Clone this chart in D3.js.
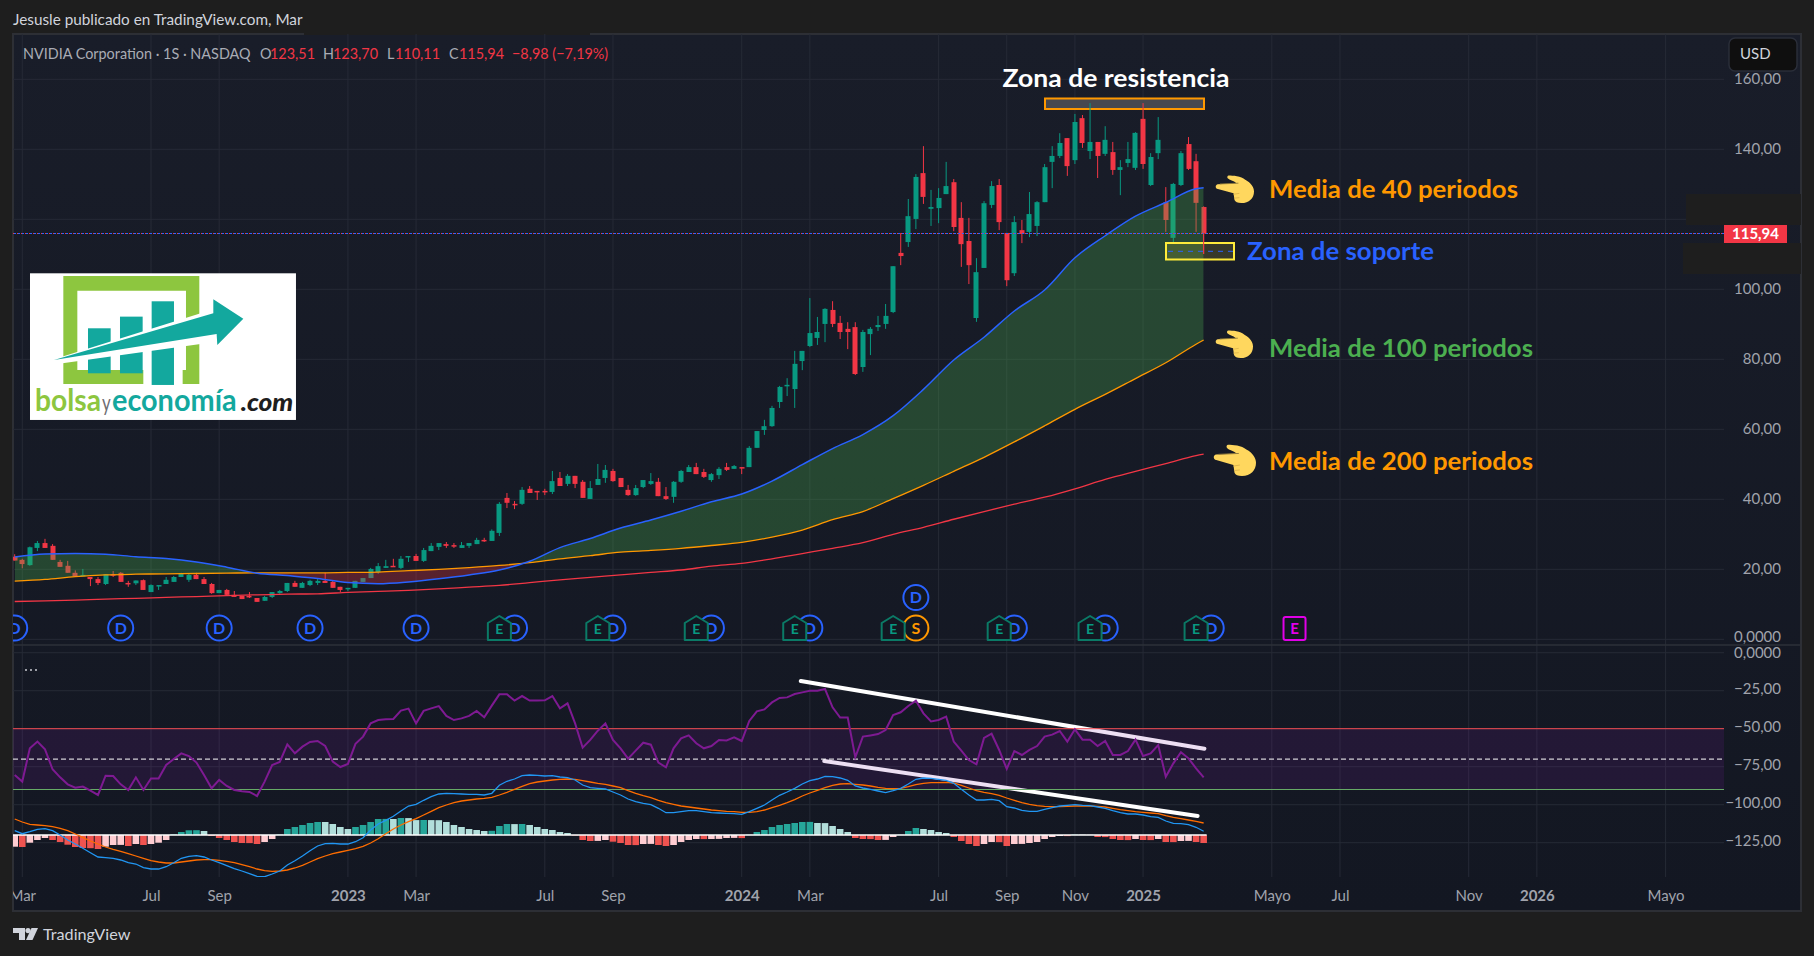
<!DOCTYPE html>
<html><head><meta charset="utf-8">
<script src="https://cdn.jsdelivr.net/npm/d3@7/dist/d3.min.js"></script>
<style>html,body{margin:0;padding:0;background:#1e1e1e;overflow:hidden}svg{display:block}text{font-family:Lato,"Noto Sans",sans-serif}</style>
</head><body><svg id="c" width="1814" height="956"></svg>
<script>
const candleOpen=[23.6,22.7,21.2,26.1,27.5,26.7,22.1,21,19,18.1,17.8,17.2,15.8,18.6,19,16.1,16,16.9,13.5,15.3,15.8,16.4,17.8,17,18.4,17.2,15.8,13.2,14.1,12.7,12.4,12.4,11.8,11,12.1,13.2,13.8,16.1,14.7,15.5,16.1,16.7,16.4,15,14.4,14.7,16.4,17.5,19.2,20.4,21,20.4,23.5,23.8,22.4,25.2,26.4,27.2,26.9,26.1,26.7,27.2,28.4,28.1,30.4,40.4,38.7,38.7,43,42.4,42.4,42.1,46.1,44.4,46.7,45,40.1,44.1,46.1,48.1,46.1,42.7,41.2,43.5,44.4,45,40.9,40.7,45,47.8,49.2,47.8,45.5,46.9,49.2,48.7,49.2,49.2,54.7,59.8,60.9,67.8,72.4,71.5,79.5,83.8,86.1,90.1,94.1,90.4,88.7,89.2,77.8,87.2,89.2,90.1,93.5,110.4,113.5,120.1,133.2,123,123.2,127.2,130.6,120.4,113.8,91.8,106.1,124.1,129.8,116.1,104.6,116.9,116.4,118.1,124.9,136.4,138.1,143.2,136.9,148.9,139.5,142.1,138.7,139.2,134.1,136.1,134.7,148.7,129.8,138.9,124.9,114.7,129.8,141.5,136.6,123.51];
const candleClose=[22.5,21.5,26.3,27.5,26.1,22.7,20.7,19,18,18.4,17.2,16.1,18.6,18.3,16.4,15.7,16.8,14.1,15.5,15.5,17,17.8,18.7,18.4,17.2,15.8,13.2,14.1,12.7,12.1,11.5,12.1,10.7,12.1,13.5,13.8,16.1,15,16.1,16.7,16.7,16.1,14.7,14.1,14.7,16.7,17.5,20.1,20.9,20.9,20.9,23,23.8,22.4,25.5,26.7,27.5,26.7,26.7,26.9,27.5,28.4,28.1,31,38.7,39,38.4,42.7,41.8,42.2,42.1,45.2,43.8,46.7,44.4,40.4,43.2,45.8,48.4,45.2,43.5,41.2,43.2,45.5,45.2,40.9,40.1,45,48.1,49.2,47.2,46.4,47.2,48.7,48.4,49.5,49,54.7,59.5,60.9,66.1,72.1,72.7,78.7,82.4,87.5,87.8,94.4,90.1,87.8,87.8,75.8,87.8,88.7,89.8,92.4,106.6,109.5,120.9,132.1,126.4,123.5,126.1,129.5,117.8,112.9,106.9,104.9,124.6,129.5,119.2,102.6,119.2,115.8,121.5,124.9,134.9,138.1,141.8,135.2,147.8,141.8,142.1,138.1,142.7,134.1,134.9,137.2,144.7,135.8,137.8,142.7,119.8,130.1,138.9,134.4,124.7,115.94];
const candleHigh=[24.3,23,26.5,28.1,28.7,27.2,22.7,22.4,19.7,20.1,17.8,17.8,18.6,19.5,19.2,16.7,16.8,17.1,15.7,15.5,17.8,18.1,19,18.7,19,17.8,16.1,14.1,14.4,13.8,12.4,13.5,11.8,12.4,13.5,14.1,16.1,16.7,16.4,17,17.2,19,16.7,15,14.7,16.7,17.5,20.4,21.8,22.7,23,23.8,23.8,24.4,26.1,27.5,27.5,27.8,27.5,27.8,27.5,29,29,31.4,39.2,41.8,39.5,43.5,43.8,42.4,43,48.1,47.8,47.2,46.7,45.5,45.2,50.1,49.8,48.7,46.1,44.1,44.1,45.5,47.5,46.1,43.5,45.2,48.4,49.8,50.4,48.7,47.5,49.2,50.4,49.8,49.2,55.2,59.5,62.7,66.7,72.4,74.6,82.4,82.4,97.5,92.1,94.6,96.6,92.4,90.6,90.6,88.4,89.2,92.4,95.8,106.6,116.1,125.8,132.9,140.9,128.4,128.9,136.4,131.5,124.9,120.4,108.9,125.2,130.9,131.5,116.1,120.9,119.8,127.8,125.2,135.8,140.9,144.6,143.2,150.1,149.8,153.2,142.1,146.6,142.1,136.9,142.1,144.9,153.2,138.9,149.2,129.2,130.4,139.5,143.5,138.7,123.7];
const candleLow=[22.5,20.3,21,25.2,26.1,22.7,20.7,19,18,18.1,15.2,15.5,15.5,17.8,16.4,15,15.5,14.1,13.5,14.1,15.8,16.4,17.8,16.4,17.2,15.8,13,13.2,12.4,12.1,11.5,11.8,10.7,11,11.8,13,13.5,15,14.7,15.2,15.5,16.1,14.7,13.5,13.8,14.7,16.4,17.5,18.7,20.4,20.7,20.1,22.1,22.4,22.1,25.2,25.5,26.1,26.1,26.1,26.1,27.2,27.8,28.1,29.5,37.5,37.2,38.4,41.8,39.8,41.2,41.5,43.8,43.8,43.2,40.4,40.1,44.1,44.7,45,43.5,41,41,43.2,44.1,40.9,39.8,39,44.7,47.8,47.2,46.1,45,45.8,48.1,48.7,47.2,49.2,54.7,58.4,60.7,66.1,69.5,66.1,76.9,83.5,84.1,84.9,89.2,85.8,82.9,75.5,76.4,81.2,88.1,88.7,93.2,106.9,112.1,117.2,124.4,118.1,118.9,127.2,116.6,106.4,101.5,90.7,106.1,123.2,116.9,100.9,103.8,113.2,114.9,115.2,124.9,128.9,137.5,132.4,135.8,140.4,137.2,131.8,138.1,132.7,126.9,134.9,134.1,134.4,129.5,137.2,116.4,113.2,129.5,134.1,116.4,110.11];

const maWeeks=[0,4,8,12,16,20,24,28,32,36,40,44,48,52,56,60,64,68,72,76,80,84,88,92,96,100,104,108,112,116,120,124,128,132,136,140,144,148,152,156,157];
const ma40=[23.5,24.4,24.5,24.3,23.6,23.1,22.1,20.6,18.9,18.2,17.4,16.2,15.9,16.4,17.3,18.4,19.8,22.3,26.2,28.8,31.8,34.1,36.6,39.3,41.5,45.2,49.9,54.5,58.5,63.9,71.4,79.8,86.3,93.8,99.8,109,115.3,120.9,124.8,128.7,129];
const ma100=[16.6,17.1,17.9,18.4,18.6,18.7,18.8,18.9,19,19,19,19.1,19.2,19.6,20,20.5,21.1,21.9,23,23.9,24.9,25.4,26,26.8,27.7,29.2,31.2,34.2,36.5,40.2,44,48,52,56.4,61,65.7,70,74.5,79,84.3,85.5];
const ma200=[10.8,11,11.2,11.5,11.7,12,12.2,12.5,12.7,12.9,13,13.4,13.7,14,14.4,14.9,15.4,16.2,17,17.7,18.4,19.1,19.8,20.9,21.7,23,24.5,26,27.6,30,32,34.3,36.5,38.6,40.6,43,45.7,48,50.2,52.5,52.9];

const rsi=[-80.5,-84.8,-62.9,-58.5,-63.6,-76.7,-82,-86.6,-88.8,-88.1,-90.8,-93.6,-80.9,-81.1,-86.6,-90.3,-82,-90.3,-82.7,-82.7,-73.9,-69.9,-66.2,-68,-72.3,-80.5,-89.2,-83.7,-87.7,-90.3,-91.2,-91.6,-94.3,-84.8,-73.9,-71.9,-60.3,-66.2,-61.8,-58.7,-58.1,-61.4,-71.7,-75.2,-73.2,-60,-55.2,-46.5,-44.3,-43.8,-43.6,-38.1,-36.8,-46.5,-38.3,-36.6,-35.1,-41.6,-44.3,-43.2,-41.6,-38.3,-42.5,-34.8,-27.4,-27.4,-31.5,-28.5,-31.5,-31.5,-31.3,-28.5,-36.6,-33.3,-46.5,-62.5,-57.4,-51.3,-46.5,-57.4,-62.9,-69.7,-64.4,-59.2,-60.5,-72.3,-75.4,-62.9,-56.3,-54.4,-59.6,-62.9,-61.4,-57.4,-57.7,-55.7,-58.1,-44.9,-38.6,-37.3,-32.7,-29.8,-29.4,-27.2,-26.1,-25,-25,-23.9,-35.9,-42.7,-42.7,-68.8,-55.2,-54.4,-53.5,-50.9,-41,-39.2,-35.1,-31.6,-39.9,-45.2,-44.3,-42.1,-58.5,-64.4,-70.6,-73.4,-56.1,-53.3,-64,-76.5,-64.7,-67.3,-64,-61.4,-55.2,-53.9,-51.5,-58.5,-50.4,-57.2,-57.2,-61.4,-58.1,-67.3,-67.3,-64.7,-57.2,-68,-66.2,-60.7,-81.6,-72.8,-65.5,-69.5,-76.1,-82];
const macdLine=[4.3,1.3,3.3,5.7,6.3,4.3,0,-5,-9,-13.3,-17.7,-22,-22.7,-23.3,-25,-27.7,-29,-32.7,-34,-34,-31.7,-27.7,-23.3,-21.3,-20.7,-22,-25,-27.7,-30.7,-33.7,-36,-38.7,-41.3,-41.7,-39,-36,-30,-25.7,-21,-15.7,-11,-8.7,-8.3,-9,-9,-6.7,-2.7,5,11,14.7,18.7,24,29,30.7,34.7,38.3,41,41.7,41.3,41,40.7,40.7,40,41.7,49.7,53.7,56,59.3,60,59.7,59,59.3,58,57.3,55,50,47.3,46.7,46,43,40,36,33.3,31.7,30.3,26.7,22.3,22.3,23.3,24.3,24.3,23.3,22.3,22,21.7,21.3,20.7,23.3,26.7,30,35,39.7,43,46.7,51,54.3,56,58.7,58.3,57,54.7,49,47,45.7,44,42.3,44.3,46.7,51,55.7,57,56.7,55.7,54.7,51.7,45.7,40,35,35,35.7,34.3,28.3,27,24.7,23.7,23.7,25.7,27.3,29,29.7,30.3,29.7,29.3,28,26.7,24.3,22.3,21,21,20,18.3,17.7,14,11.7,11.3,10.3,7.7,3.7];
const macdSignal=[16,13,10.7,10,9.3,8.3,6.7,4.3,1,-2.3,-6,-9,-12,-14.3,-16.3,-18.7,-21,-23.3,-25.7,-27,-28,-28,-27,-26,-25,-24.7,-24.7,-25.3,-26.3,-27.7,-29.7,-31.7,-34,-35.7,-36.3,-36,-35,-33,-30.3,-27,-23.7,-21,-18.7,-17,-15.3,-13.7,-11.3,-8,-3.7,1.3,6,10,13.3,16.3,20,23.7,27.3,30,32.3,34,35,36,36.7,37.7,40,42.7,45.7,48.7,51.3,53,54,55,55.7,56,55.7,54.3,53,51.7,50.7,49,47.3,44.3,41.7,39.3,37.3,34.7,32.3,30.7,29,28,27,26,25,24.3,23.7,23.3,22.7,22.7,23.3,25,27.3,29.7,32.3,35.3,39,42,44.7,47.3,49.7,51,51.3,50.7,50,49,47.7,46.7,46.3,46.7,48.3,50.3,51.7,52.3,52.3,52.7,52,49.7,47,44.3,42.7,41.3,39.7,37,34.7,32.3,30.7,29.3,28.7,28.3,28.3,28.7,29,29,29,28.7,28,26.7,25.3,24.3,23.3,22.7,22,21.3,19.3,17.7,16.3,15,13.7,12];
const macdHist=[-11.7,-12,-7.7,-5,-3,-5,-7,-9.7,-12,-13,-13.2,-14,-11.7,-10,-9.9,-11,-9,-10,-9,-7.7,-5,0.7,3,4.7,4.8,4,-1,-3,-5,-7,-8,-8.1,-9,-7,-4,0.5,6,8,10,12,13,13,11,8,6,8,10,13,16,16.1,16,17,16.9,14.9,15,14.9,14.8,13,10,8,6,5,4,4.2,9,11,10.9,11,10,8,6,5,3,2,-0.5,-5,-6,-5.9,-5,-6.7,-8,-10,-10.1,-9,-8.9,-10,-11,-10,-7,-5,-4,-4.1,-4,-3.9,-3,-2.9,-3.1,0.3,3,5,8,10,11,12,13,13.1,12,11.9,9,6,3,-3,-4,-4.1,-5,-4.9,-2,0.3,4,7,6,5,3,2,-2,-6,-9,-11,-9,-7,-7.1,-11,-9,-8.9,-8,-7,-4,-2,-1,-1.1,0.4,0.3,0.2,-2,-2.1,-4,-5,-5.1,-4,-5,-5.1,-4,-7,-7.1,-6,-5.9,-7,-8];

const priceTicks=[160,140,120,100,80,60,40,20,0];
const paneTicks=[0,-25,-50,-75,-100,-125];
const timeTickWeeks=[1,18,27,44,53,70,79,96,105,122,131,140,149,166,175,192,201,218];
const timeTickLabels=["Mar","Jul","Sep","2023","Mar","Jul","Sep","2024","Mar","Jul","Sep","Nov","2025","Mayo","Jul","Nov","2026","Mayo"];
const dividendWeeks=[0,14,27,39,53,66,79,92,105,132,144,158];
const earningsWeeks=[64,77,90,103,116,130,142,156];
const futureEarningsWeek=169, splitWeek=119;
const lastPrice=115.94;
const trendA={w:[103.8,157.1],v:[-18.6,-63.2]}, trendB={w:[106.9,156.2],v:[-71.3,-107.4]};

const GREEN="#089981",RED="#F23645",GRID="#262a36",AXIS="#a0a3ac";
const svg=d3.select("#c");
const L=13,R=1724,RR=1801,T=34,B=911,MAIN_B=645,SUB_T=646,SUB_B=877;
const x=d3.scaleLinear().domain([0,218]).range([14.7,1665.6]);
const y=d3.scaleLinear().domain([0,160]).range([639.3,79.3]);
const yp=d3.scaleLinear().domain([0,-125]).range([652.7,842.7]);
const ym=d3.scaleLinear().domain([-60,60]).range([895,775]);
const fmt=d3.formatLocale({decimal:",",thousands:".",grouping:[3],currency:["",""],minus:"−"}).format(".2f");
const defs=svg.append("defs");
const bg=defs.append("linearGradient").attr("id","bg").attr("x1",0).attr("x2",0).attr("y1",0).attr("y2",1);
bg.append("stop").attr("offset",0).attr("stop-color","#191d29");bg.append("stop").attr("offset",1).attr("stop-color","#131722");
defs.append("clipPath").attr("id","cpMain").append("rect").attr("x",L).attr("y",T).attr("width",R-L).attr("height",MAIN_B-T);
defs.append("clipPath").attr("id","cpSub").append("rect").attr("x",L).attr("y",SUB_T).attr("width",R-L).attr("height",SUB_B-SUB_T);
defs.append("clipPath").attr("id","cpTime").append("rect").attr("x",L).attr("y",SUB_B).attr("width",RR-L).attr("height",B-SUB_B);

svg.append("rect").attr("width",1814).attr("height",956).attr("fill","#1e1e1e");
svg.append("rect").attr("x",L).attr("y",T).attr("width",RR-L).attr("height",B-T).attr("fill","url(#bg)").attr("stroke","#2d2f35").attr("stroke-width",2);
svg.append("rect").attr("x",304).attr("y",30).attr("width",286).attr("height",5).attr("fill","#1e1e1e");
svg.append("text").attr("x",13).attr("y",25).attr("font-size",15.3).attr("fill","#d1d4dc").text("Jesusle publicado en TradingView.com, Mar");

// grid
const gridG=svg.append("g");
gridG.selectAll(".gx").data(timeTickWeeks).join("line").attr("x1",d=>x(d)).attr("x2",d=>x(d)).attr("y1",T).attr("y2",SUB_B).attr("stroke",GRID);
gridG.selectAll(".gy").data(priceTicks).join("line").attr("x1",L).attr("x2",R).attr("y1",d=>y(d)).attr("y2",d=>y(d)).attr("stroke",GRID);
gridG.selectAll(".gp").data(paneTicks).join("line").attr("x1",L).attr("x2",R).attr("y1",d=>yp(d)).attr("y2",d=>yp(d)).attr("stroke",GRID);
svg.append("line").attr("x1",L).attr("x2",RR).attr("y1",645).attr("y2",645).attr("stroke","#2d3039").attr("stroke-width",1.5);

// resistance box sits under the candles
svg.append("rect").attr("x",1045).attr("y",98.5).attr("width",159).attr("height",10.5).attr("fill","#47484f").attr("stroke","#FF9800").attr("stroke-width",2);

// candles
const idx=d3.range(candleOpen.length);
const main=svg.append("g").attr("clip-path","url(#cpMain)");
const col=i=>candleClose[i]>=candleOpen[i]?GREEN:RED;
main.selectAll(".w").data(idx).join("line").attr("x1",i=>x(i)).attr("x2",i=>x(i)).attr("y1",i=>y(candleHigh[i])).attr("y2",i=>y(candleLow[i])).attr("stroke",col).attr("stroke-width",1);
main.selectAll(".b").data(idx).join("rect").attr("x",i=>Math.round(x(i))-2.5).attr("width",5)
  .attr("y",i=>y(Math.max(candleOpen[i],candleClose[i]))).attr("height",i=>Math.max(1.5,Math.abs(y(candleOpen[i])-y(candleClose[i])))).attr("fill",col);

// moving-average fill
const maPts=maWeeks.map((w,i)=>({w,a:ma40[i],b:ma100[i],c:ma200[i]}));
const curve=d3.curveMonotoneX;
const above=defs.append("clipPath").attr("id","cpAbove"),below=defs.append("clipPath").attr("id","cpBelow");
above.append("path").attr("d",d3.area().curve(curve).x(d=>x(d.w)).y0(T).y1(d=>y(d.b))(maPts));
below.append("path").attr("d",d3.area().curve(curve).x(d=>x(d.w)).y0(MAIN_B).y1(d=>y(d.b))(maPts));
const band=d3.area().curve(curve).x(d=>x(d.w)).y0(d=>y(d.b)).y1(d=>y(d.a));
main.append("g").attr("clip-path","url(#cpAbove)").append("path").attr("d",band(maPts)).attr("fill","rgba(76,175,80,.3)");
main.append("g").attr("clip-path","url(#cpBelow)").append("path").attr("d",band(maPts)).attr("fill","rgba(242,54,69,.3)");
const ln=k=>d3.line().curve(curve).x(d=>x(d.w)).y(d=>y(d[k]))(maPts);
main.append("path").attr("d",ln("c")).attr("fill","none").attr("stroke","#F23645").attr("stroke-width",1.3);
main.append("path").attr("d",ln("b")).attr("fill","none").attr("stroke","#FF9800").attr("stroke-width",1.3);
main.append("path").attr("d",ln("a")).attr("fill","none").attr("stroke","#2962FF").attr("stroke-width",1.5);

// last price line
main.append("line").attr("x1",L).attr("x2",R).attr("y1",y(lastPrice)).attr("y2",y(lastPrice)).attr("stroke",RED).attr("stroke-dasharray","1 3");
main.append("line").attr("x1",L+1).attr("x2",R).attr("y1",y(lastPrice)).attr("y2",y(lastPrice)).attr("stroke","#2f66ff").attr("stroke-dasharray","2 2");

// events
function dBadge(g,w,cy,lab,color){
  g.append("circle").attr("cx",x(w)).attr("cy",cy).attr("r",12.5).attr("fill","#131722").attr("stroke",color).attr("stroke-width",2);
  g.append("text").attr("x",x(w)).attr("y",cy+5.5).attr("text-anchor","middle").attr("font-size",16).attr("font-weight",700).attr("fill",color).text(lab);
}
const ev=svg.append("g").attr("clip-path","url(#cpMain)");
dividendWeeks.forEach(w=>dBadge(ev,w,628,"D","#2962FF"));
dBadge(ev,splitWeek,597.5,"D","#2962FF");
dBadge(ev,splitWeek,628,"S","#FF9800");
earningsWeeks.forEach(w=>{
  const cx=x(w);
  ev.append("path").attr("d",d3.line()([[cx-11.5,623],[cx,616],[cx+11.5,623],[cx+11.5,640],[cx-11.5,640]])+"Z").attr("fill","#131722").attr("stroke","#0b7a66").attr("stroke-width",2).attr("stroke-linejoin","round");
  ev.append("text").attr("x",cx).attr("y",634).attr("text-anchor","middle").attr("font-size",14).attr("font-weight",700).attr("fill","#089981").text("E");
});
{const cx=x(futureEarningsWeek);
 ev.append("rect").attr("x",cx-11).attr("y",617).attr("width",22).attr("height",23).attr("rx",2).attr("fill","#131722").attr("stroke","#E100E8").attr("stroke-width",2);
 ev.append("text").attr("x",cx).attr("y",634).attr("text-anchor","middle").attr("font-size",15).attr("font-weight",700).attr("fill","#E100E8").text("E");}

// sub pane
const sub=svg.append("g").attr("clip-path","url(#cpSub)");
[trendA,trendB].forEach(t=>sub.append("line").attr("x1",x(t.w[0])).attr("x2",x(t.w[1])).attr("y1",yp(t.v[0])).attr("y2",yp(t.v[1])).attr("stroke","#fff").attr("stroke-width",4).attr("stroke-linecap","round"));
sub.append("rect").attr("x",L).attr("width",R-L).attr("y",yp(-50)).attr("height",yp(-90)-yp(-50)).attr("fill","rgba(126,30,170,.14)");
sub.append("line").attr("x1",L).attr("x2",R).attr("y1",yp(-50)).attr("y2",yp(-50)).attr("stroke","#F44C50").attr("stroke-width",1);
sub.append("line").attr("x1",L).attr("x2",R).attr("y1",yp(-90)).attr("y2",yp(-90)).attr("stroke","#66AA66").attr("stroke-width",1);
sub.append("line").attr("x1",L).attr("x2",R).attr("y1",yp(-70)).attr("y2",yp(-70)).attr("stroke","#fff").attr("stroke-dasharray","5 3");
// histogram
const hcol=(d,i)=>{const p=i?macdHist[i-1]:d; return d>=0?(d>p?"#26A69A":"#B2DFDB"):(d<p?"#EF5350":"#FFCDD2");};
sub.selectAll(".h").data(macdHist).join("rect").attr("x",(d,i)=>x(i)-3.3).attr("width",6.6)
  .attr("y",d=>Math.min(ym(d),ym(0))).attr("height",d=>Math.abs(ym(d)-ym(0))).attr("fill",hcol);
sub.append("line").attr("x1",L).attr("x2",x(157)+3).attr("y1",ym(0)).attr("y2",ym(0)).attr("stroke","#fff").attr("stroke-width",1.5);
const wline=d3.line().x((d,i)=>x(i)).y(d=>ym(d));
sub.append("path").attr("d",wline(macdSignal)).attr("fill","none").attr("stroke","#FF6D00").attr("stroke-width",1.3);
sub.append("path").attr("d",wline(macdLine)).attr("fill","none").attr("stroke","#2196F3").attr("stroke-width",1.3);
sub.append("path").attr("d",d3.line().x((d,i)=>x(i)).y(d=>yp(d))(rsi)).attr("fill","none").attr("stroke","#7E1A92").attr("stroke-width",2);
svg.append("g").selectAll("circle").data([0,1,2]).join("circle").attr("cx",d=>26+d*5).attr("cy",670).attr("r",1).attr("fill","#c8cad0");

// axes
const axStyle=g=>{g.select(".domain").remove();g.selectAll(".tick line").remove();
  g.selectAll("text").attr("font-size",15).attr("fill",AXIS);};
const gPrice=svg.append("g").attr("transform",`translate(1781,0)`).call(d3.axisLeft(y).tickValues(priceTicks).tickSize(0).tickPadding(0).tickFormat(d=>d===0?"0,0000":fmt(d)));
gPrice.call(axStyle);gPrice.selectAll("text").attr("dy",d=>d===0?"0.12em":"0.3em").attr("text-anchor","end");
const gPane=svg.append("g").attr("transform",`translate(1781,-2)`).call(d3.axisLeft(yp).tickValues(paneTicks).tickSize(0).tickPadding(0).tickFormat(d=>d===0?"0,0000":fmt(d)));
gPane.call(axStyle);gPane.selectAll("text").attr("dy",d=>d===0?"0.46em":"0.32em").attr("text-anchor","end");
const gTime=svg.append("g").attr("clip-path","url(#cpTime)").append("g").attr("transform",`translate(0,887)`)
 .call(d3.axisBottom(x).tickValues(timeTickWeeks).tickSize(0).tickPadding(0).tickFormat((d,i)=>timeTickLabels[i]));
gTime.call(axStyle);gTime.selectAll("text").attr("dy","0.9em").attr("font-weight",(d,i)=>/^\d/.test(timeTickLabels[i])?700:400);

// cover patches
svg.append("rect").attr("x",1686).attr("y",194).attr("width",115).attr("height",31).attr("fill","#1e1e1e");
svg.append("rect").attr("x",1683).attr("y",243).attr("width",118).attr("height",31).attr("fill","#1e1e1e");
svg.append("rect").attr("x",1724).attr("y",225).attr("width",63).attr("height",18).attr("fill",RED);
svg.append("text").attr("x",1755.5).attr("y",239).attr("text-anchor","middle").attr("font-size",15).attr("font-weight",700).attr("fill","#fff").text("115,94");
svg.append("rect").attr("x",1729).attr("y",38).attr("width",68).attr("height",33).attr("rx",6).attr("fill","#0f0f0f").attr("stroke","#2a2e39").attr("stroke-width",1.5);
svg.append("text").attr("x",1740).attr("y",59).attr("font-size",15).attr("fill","#d1d4dc").text("USD");

// legend
const lg=svg.append("g").attr("font-size",14.4);
[[23,"NVIDIA Corporation · 1S · NASDAQ","#a9acb5"],[260,"O","#a9acb5"],[270,"123,51",RED],[323,"H","#a9acb5"],[333,"123,70",RED],[387,"L","#a9acb5"],[395,"110,11",RED],[449,"C","#a9acb5"],[459,"115,94",RED],[512,"−8,98 (−7,19%)",RED]]
 .forEach(([px,t,c])=>lg.append("text").attr("x",px).attr("y",58.5).attr("fill",c).text(t));

// annotations
svg.append("rect").attr("x",1166).attr("y",243).attr("width",68).attr("height",16.5).attr("fill","rgba(255,235,59,.14)").attr("stroke","#FFEB3B").attr("stroke-width",2);
svg.append("line").attr("x1",1168).attr("x2",1233).attr("y1",251.3).attr("y2",251.3).attr("stroke","#2962FF").attr("stroke-dasharray","5 5");
svg.append("line").attr("x1",x(157)).attr("x2",x(157)).attr("y1",y(lastPrice)).attr("y2",y(candleLow[157])).attr("stroke",RED);
const note=(tx,cy,t,c,fs,anchor,w)=>svg.append("text").attr("x",tx).attr("y",cy+fs*.34).attr("text-anchor",anchor||"start").attr("font-size",fs).attr("font-weight",700).attr("fill",c).attr("textLength",w).attr("lengthAdjust","spacingAndGlyphs").text(t);
note(1116,79,"Zona de resistencia","#fff",24,"middle",227);
note(1269,190,"Media de 40 periodos","#FF9800",24,"start",249);
note(1247,251.5,"Zona de soporte","#2962FF",24,"start",187);
note(1269,349,"Media de 100 periodos","#4CAF50",24,"start",264);
note(1269,462,"Media de 200 periodos","#FF9800",24,"start",264);
function hand(hx,hy,w,h){
  const g=svg.append("g").attr("transform",`translate(${hx},${hy}) scale(${w/40},${h/30})`);
  g.append("path").attr("d","M14 1.5 C18 1.5 27 2 31 6 C37 9 40 14 40 18 C40 25 35 30 27 30 C23 30 21 29 20 27 L19 20 L3 15.5 C0 15 0 11 3 10.5 L22 9.5 C19 7 15 6.5 13 4.5 C12 3 13 1.5 14 1.5 Z").attr("fill","#FFD75E");
  g.append("path").attr("d","M5 10.3 L24 9.5").attr("stroke","#8f7a3a").attr("stroke-width",.9).attr("fill","none");
  g.append("path").attr("d","M19 21 L25 20 M19.5 25 L25 24.5").attr("stroke","#d9b04a").attr("stroke-width",.8).attr("fill","none");
}
hand(1215,174,39,29);hand(1215,329,38,29);hand(1213,443,43,33);

// logo
const lgG=svg.append("g").attr("transform","translate(30,273.3) scale(.3333)");
lgG.append("rect").attr("width",798).attr("height",440).attr("fill","#fff");
lgG.append("path").attr("fill-rule","evenodd").attr("fill","#8DC63F").attr("d","M100 8H508V332H458V290H468V52H142V290H340V332H100Z");
lgG.selectAll(".bar").data([[174,165,68,135],[270,130,68,170],[365,84,67,251]]).join("rect").attr("x",d=>d[0]).attr("y",d=>d[1]).attr("width",d=>d[2]).attr("height",d=>d[3]).attr("fill","#13A89E");
lgG.append("path").attr("fill","#fff").attr("d","M60 262L560 105V205L60 275Z");
lgG.append("path").attr("fill","#13A89E").attr("d","M72 260L550 120L550 78L640 136L562 215L560 182Z");
lgG.append("text").attr("x",15).attr("y",414).attr("font-size",90).attr("font-weight",700).attr("fill","#8DC63F").attr("textLength",198).attr("lengthAdjust","spacingAndGlyphs").text("bolsa");
lgG.append("text").attr("x",216).attr("y",414).attr("font-size",70).attr("fill","#6d6e71").attr("textLength",26).attr("lengthAdjust","spacingAndGlyphs").text("y");
lgG.append("text").attr("x",246).attr("y",414).attr("font-size",90).attr("font-weight",700).attr("fill","#13A89E").attr("textLength",374).attr("lengthAdjust","spacingAndGlyphs").text("economía");
lgG.append("text").attr("x",632).attr("y",414).attr("font-size",72).attr("font-weight",900).attr("font-style","italic").attr("fill","#1e1e1e").attr("textLength",158).attr("lengthAdjust","spacingAndGlyphs").text(".com");

// footer
const tv=svg.append("g").attr("transform","translate(13,928)").attr("fill","#d1d4dc");
tv.append("path").attr("d","M0 0H12V12H6V5H0Z");tv.append("circle").attr("cx",15).attr("cy",2.6).attr("r",2.6);tv.append("path").attr("d","M18.5 0H25L19.5 12H13Z");
svg.append("text").attr("x",43).attr("y",939.5).attr("font-size",16.2).attr("fill","#d1d4dc").text("TradingView");
</script></body></html>
